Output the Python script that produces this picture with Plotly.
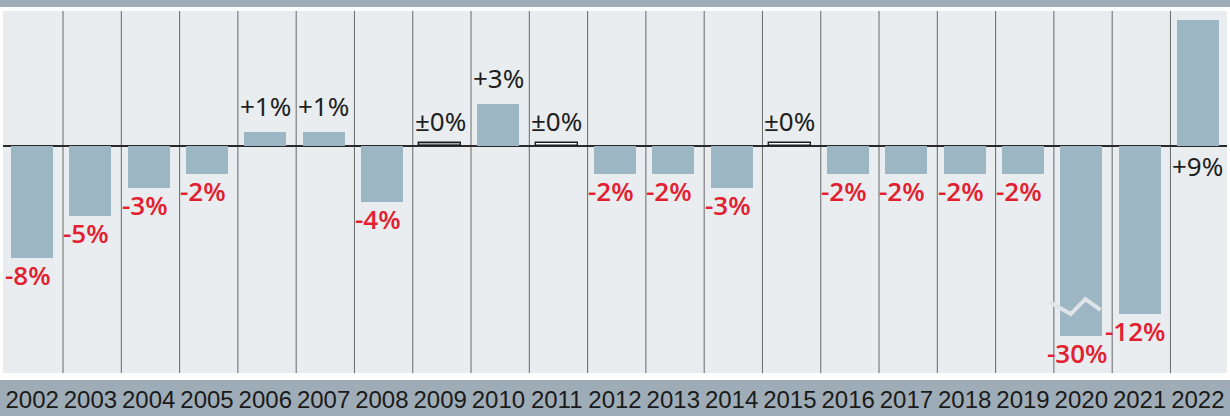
import plotly.graph_objects as go

years = [str(y) for y in range(2002, 2023)]
values = [-8, -5, -3, -2, 1, 1, -4, 0, 3, 0, -2, -2, -3, 0, -2, -2, -2, -2, -30, -12, 9]
labels = ["-8%", "-5%", "-3%", "-2%", "+1%", "+1%", "-4%", "±0%", "+3%", "±0%",
          "-2%", "-2%", "-3%", "±0%", "-2%", "-2%", "-2%", "-2%", "-30%", "-12%", "+9%"]
zero_fill = {"2009": "#a3a8ab", "2011": "#ffffff", "2015": "#ffffff"}

BAR = "#9db6c4"
RED = "#e2202f"
BLACK = "#1e1e1e"
BAND = "#9eacb7"
BREAK_CAP = -13.6  # broken bar display length

idx = list(range(len(years)))
disp = [max(v, BREAK_CAP) for v in values]

fig = go.Figure()
fig.add_trace(go.Bar(x=idx, y=disp, marker=dict(color=BAR, line=dict(width=0)),
                     width=0.72, hoverinfo="skip", showlegend=False))

# zero stubs
zi = [i for i, v in zip(idx, values) if v == 0]
fig.add_trace(go.Bar(x=zi, y=[0.22] * len(zi), width=0.72,
                     marker=dict(color=[zero_fill[years[i]] for i in zi],
                                 line=dict(color=BLACK, width=1.4)),
                     hoverinfo="skip", showlegend=False))

# break zigzag on the truncated bar
bi = [i for i, v in enumerate(values) if v < BREAK_CAP][0]
fig.add_trace(go.Scatter(x=[bi - 0.55, bi - 0.18, bi + 0.07, bi + 0.33],
                         y=[-11.14, -12.0, -10.93, -11.71], mode="lines",
                         line=dict(color="#dfe4e8", width=4), hoverinfo="skip", showlegend=False))

annotations = []
for i, v, d, t in zip(idx, values, disp, labels):
    if v < 0:
        annotations.append(dict(x=i, y=d, xref="x", yref="y", text=t, showarrow=False,
                                yanchor="top", yshift=3, xshift=-4,
                                font=dict(family="Open Sans, Noto Sans, sans-serif",
                                          color=RED, size=26, weight=600)))
    elif v == 0:
        annotations.append(dict(x=i, y=0.22, xref="x", yref="y", text=t, showarrow=False,
                                yanchor="bottom", yshift=2, font=dict(color=BLACK, size=26)))
    elif d > 8:
        annotations.append(dict(x=i, y=0, xref="x", yref="y", text=t, showarrow=False,
                                yanchor="top", yshift=0, font=dict(color=BLACK, size=26)))
    else:
        annotations.append(dict(x=i, y=d, xref="x", yref="y", text=t, showarrow=False,
                                yanchor="bottom", yshift=6, font=dict(color=BLACK, size=26)))

shapes = []
for k in range(len(years) - 1):
    shapes.append(dict(type="line", xref="x", yref="paper", x0=k + 0.53, x1=k + 0.53, y0=0, y1=1,
                       line=dict(color="#686868", width=1), layer="below"))
shapes.append(dict(type="rect", xref="paper", yref="paper", x0=-0.01, x1=1.01, y0=1.011, y1=1.05,
                   fillcolor=BAND, line=dict(width=0)))
shapes.append(dict(type="rect", xref="paper", yref="paper", x0=-0.01, x1=1.01, y0=-0.0193, y1=-0.2,
                   fillcolor=BAND, line=dict(width=0), layer="below"))

fig.update_layout(
    width=1230, height=416, autosize=False,
    margin=dict(l=3, r=3, t=11, b=43, autoexpand=False),
    paper_bgcolor="white", plot_bgcolor="#e9edf0",
    font=dict(family="Noto Sans, Open Sans, sans-serif", color=BLACK),
    bargap=0, barmode="overlay",
    xaxis=dict(range=[-0.5, len(years) - 0.5], tickvals=idx, ticktext=years,
               showgrid=False, zeroline=False, ticks="", showline=False, tickangle=0,
               automargin=False,
               tickfont=dict(family="Liberation Sans Narrow, Liberation Sans, sans-serif",
                             size=24, color="#1a1a1a"),
               ticklabelstandoff=10),
    yaxis=dict(range=[-16.21, 9.64], showgrid=False, showticklabels=False, ticks="",
               zeroline=True, zerolinecolor="#2a2a2a", zerolinewidth=2, automargin=False),
    shapes=shapes, annotations=annotations,
)

fig.write_html("out.html", config={"displayModeBar": False},
               post_script="document.body.style.margin='0';document.body.style.overflow='hidden';")
